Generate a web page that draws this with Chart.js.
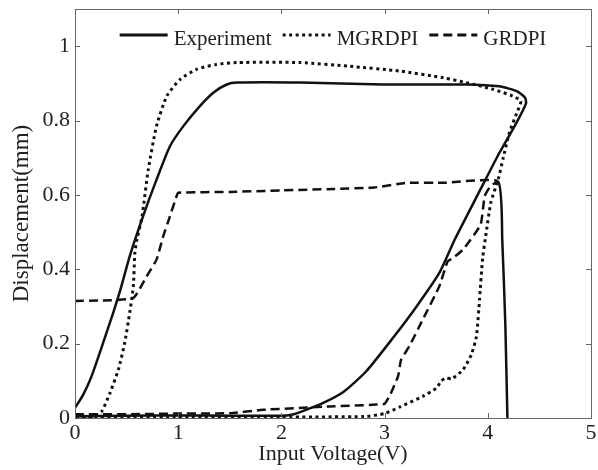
<!DOCTYPE html>
<html>
<head>
<meta charset="utf-8">
<script src="https://cdn.jsdelivr.net/npm/chart.js@4.4.0/dist/chart.umd.min.js"></script>
<style>
    html, body { margin: 0; padding: 0; background: #fff; }
</style>
</head>
<body>
<canvas id="hystChart" width="598" height="470"></canvas>
<script>
// ==========================================
// DATA
// ==========================================
const X_TICKS = [0, 1, 2, 3, 4, 5];
const Y_TICKS = [0, 0.2, 0.4, 0.6, 0.8, 1];
const Y_TICK_LABELS = ['0', '0.2', '0.4', '0.6', '0.8', '1'];

// Experiment: rising branch, then falling branch
const EXP_V = [0, 0.5, 1.0, 1.5, 2.0, 2.1, 2.2, 2.4, 2.6, 2.82, 3.08, 3.31, 3.53, 3.68, 3.92, 4.11, 4.28, 4.37,
    4.36, 4.28, 4.11, 3.79, 2.98, 2.18, 1.57, 1.47, 1.34, 1.21, 1.05, 0.92, 0.79, 0.66, 0.53, 0.44, 0.37, 0.27, 0.16, 0.08, 0];
const EXP_D = [0.005, 0.006, 0.007, 0.006, 0.006, 0.009, 0.018, 0.04, 0.07, 0.125, 0.215, 0.30, 0.39, 0.48, 0.61, 0.712, 0.795, 0.846,
    0.862, 0.879, 0.892, 0.897, 0.897, 0.902, 0.902, 0.897, 0.875, 0.839, 0.785, 0.731, 0.641, 0.543, 0.435, 0.345, 0.283, 0.2, 0.112, 0.063, 0.027];

// MGRDPI model
const MGR_V = [0, 1.0, 2.0, 2.8, 3.0, 3.15, 3.37, 3.5, 3.55, 3.6, 3.65, 3.76, 3.84, 3.89, 3.92, 3.95, 3.98, 4.03, 4.1, 4.15, 4.21, 4.28, 4.32,
    4.24, 4.05, 3.79, 3.57, 3.15, 2.66, 2.18, 1.57, 1.37, 1.18, 1.02, 0.89, 0.79, 0.71, 0.65, 0.6, 0.58, 0.565, 0.53, 0.48, 0.42, 0.34, 0.26, 0.2, 0];
const MGR_D = [0.003, 0.003, 0.003, 0.004, 0.012, 0.03, 0.058, 0.08, 0.1, 0.108, 0.105, 0.13, 0.17, 0.22, 0.32, 0.43, 0.49, 0.58, 0.641, 0.7, 0.768, 0.82, 0.852,
    0.866, 0.884, 0.902, 0.915, 0.933, 0.946, 0.956, 0.956, 0.951, 0.938, 0.911, 0.866, 0.785, 0.668, 0.543, 0.48, 0.444, 0.354, 0.283, 0.2, 0.13, 0.068, 0.018, 0.005, 0.005];

// GRDPI model (null splits the two branches)
const GR_V = [0, 0.25, 0.565, 0.694, 0.79, 0.855, 0.91, 0.985, 1.0, 1.5, 2.0, 2.5, 2.9, 3.2, 3.6, 4.1, 4.14, 4.17, 4.19,
    null,
    0, 0.5, 1.0, 1.5, 1.82, 2.47, 2.92, 3.0, 3.05, 3.13, 3.16, 3.24, 3.37, 3.53, 3.61, 3.66, 3.76, 3.93, 3.97, 4.03, 4.1];
const GR_D = [0.315, 0.316, 0.323, 0.381, 0.426, 0.489, 0.534, 0.597, 0.606, 0.608, 0.612, 0.616, 0.62, 0.632, 0.633, 0.636, 0.48, 0.25, 0,
    null,
    0.01, 0.01, 0.012, 0.013, 0.022, 0.031, 0.036, 0.038, 0.06, 0.112, 0.157, 0.193, 0.265, 0.354, 0.421, 0.43, 0.453, 0.52, 0.597, 0.625, 0.636];

const SERIF = 'Liberation Serif, Times New Roman, serif';
const INK = '#111';

function toPoints(xs, ys) {
    return xs.map((x, i) => ({ x: x, y: ys[i] }));
}

// inner tick marks and box frame, MATLAB style
const framePlugin = {
    id: 'frame',
    afterDraw(chart) {
        const { ctx, chartArea: a, scales } = chart;
        const len = 5;
        ctx.save();
        ctx.strokeStyle = '#666';
        ctx.lineWidth = 1;
        ctx.beginPath();
        X_TICKS.forEach(v => {
            const px = Math.round(scales.x.getPixelForValue(v)) + 0.5;
            ctx.moveTo(px, a.bottom); ctx.lineTo(px, a.bottom - len);
            ctx.moveTo(px, a.top); ctx.lineTo(px, a.top + len);
        });
        Y_TICKS.forEach(v => {
            const py = Math.round(scales.y.getPixelForValue(v)) + 0.5;
            ctx.moveTo(a.left, py); ctx.lineTo(a.left + len, py);
            ctx.moveTo(a.right, py); ctx.lineTo(a.right - len, py);
        });
        ctx.stroke();
        ctx.strokeRect(Math.round(a.left) + 0.5, Math.round(a.top) + 0.5,
            Math.round(a.right - a.left), Math.round(a.bottom - a.top));
        ctx.restore();
    }
};

// one-row legend inside the top of the plot box
const boxLegendPlugin = {
    id: 'boxLegend',
    afterDraw(chart) {
        const { ctx, chartArea: a } = chart;
        const lineW = 48, gapText = 6, gapItem = 11;
        ctx.save();
        ctx.font = '21px ' + SERIF;
        const items = chart.data.datasets.map(ds => ({ ds: ds, w: ctx.measureText(ds.label).width }));
        let total = 0;
        items.forEach((it, i) => { total += lineW + gapText + it.w + (i ? gapItem : 0); });
        let x = (a.left + a.right) / 2 - total / 2;
        const y = a.top + 26;
        items.forEach(it => {
            ctx.strokeStyle = it.ds.borderColor;
            ctx.lineWidth = 3;
            ctx.lineCap = 'butt';
            ctx.setLineDash(it.ds.borderDash || []);
            ctx.beginPath();
            ctx.moveTo(x, y);
            ctx.lineTo(x + lineW, y);
            ctx.stroke();
            ctx.setLineDash([]);
            ctx.fillStyle = '#222';
            ctx.textBaseline = 'alphabetic';
            ctx.fillText(it.ds.label, x + lineW + gapText, y + 10);
            x += lineW + gapText + it.w + gapItem;
        });
        ctx.restore();
    }
};

function initChart() {
    const ctx = document.getElementById('hystChart').getContext('2d');

    new Chart(ctx, {
        type: 'line',
        data: {
            datasets: [
                {
                    label: 'Experiment',
                    data: toPoints(EXP_V, EXP_D),
                    borderColor: INK,
                    backgroundColor: INK,
                    borderWidth: 2.5,
                    tension: 0.2
                },
                {
                    label: 'MGRDPI',
                    data: toPoints(MGR_V, MGR_D),
                    borderColor: INK,
                    backgroundColor: INK,
                    borderWidth: 3,
                    borderDash: [3, 3.5],
                    tension: 0.2
                },
                {
                    label: 'GRDPI',
                    data: toPoints(GR_V, GR_D),
                    borderColor: INK,
                    backgroundColor: INK,
                    borderWidth: 2.5,
                    borderDash: [9, 5],
                    tension: 0.15,
                    spanGaps: false,
                    // the steep drop near 4.2 V renders as a solid stroke in the figure
                    segment: {
                        borderDash: c => (c.p0.parsed.x >= 4.09 && c.p1.parsed.x >= 4.09) ? [] : undefined
                    }
                }
            ]
        },
        options: {
            responsive: false,
            animation: false,
            parsing: { xAxisKey: 'x', yAxisKey: 'y' },
            elements: { point: { radius: 0 } },
            layout: { padding: { top: 9, right: 7, left: 0, bottom: 0 } },
            scales: {
                x: {
                    type: 'linear',
                    min: 0, max: 5,
                    afterBuildTicks: s => { s.ticks = X_TICKS.map(v => ({ value: v })); },
                    afterFit: s => { s.height = 52; s.paddingLeft = 0; s.paddingRight = 0; },
                    grid: { display: false, drawTicks: false },
                    border: { display: false },
                    ticks: {
                        color: '#222',
                        font: { family: SERIF, size: 22 },
                        padding: 2,
                        maxRotation: 0,
                        callback: v => String(v)
                    },
                    title: {
                        display: true,
                        text: 'Input Voltage(V)',
                        color: '#222',
                        font: { family: SERIF, size: 22 },
                        padding: { top: 0, bottom: 3 }
                    }
                },
                y: {
                    type: 'linear',
                    min: 0, max: 1.1,
                    afterBuildTicks: s => { s.ticks = Y_TICKS.map(v => ({ value: v })); },
                    afterFit: s => { s.width = 75; s.paddingTop = 0; s.paddingBottom = 0; },
                    grid: { display: false, drawTicks: false },
                    border: { display: false },
                    ticks: {
                        color: '#222',
                        font: { family: SERIF, size: 22 },
                        padding: 5,
                        callback: (v, i) => Y_TICK_LABELS[i]
                    },
                    title: {
                        display: true,
                        text: 'Displacement(mm)',
                        color: '#222',
                        font: { family: SERIF, size: 23 },
                        padding: { top: 8, bottom: 0 }
                    }
                }
            },
            plugins: {
                tooltip: { enabled: false },
                legend: { display: false }
            }
        },
        plugins: [framePlugin, boxLegendPlugin]
    });
}

window.onload = initChart;
</script>
</body>
</html>
